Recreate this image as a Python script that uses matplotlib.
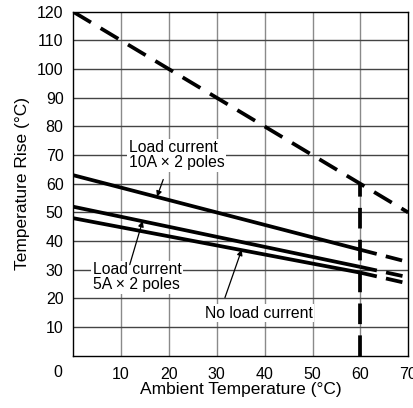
import matplotlib
matplotlib.use("Agg")
import matplotlib.pyplot as plt

plt.rcParams['font.family'] = ['Liberation Sans', 'DejaVu Sans']

# Data
x_limit_line = [0, 70]
max_rise = [120, 50]
x_solid = [0, 60]
x_ext = [60, 70]
load10 = [63, 37, 32.7]
load5 = [52, 31, 27.4]
noload = [48, 29, 25.2]
limit_x = [60, 60]
limit_y = [0, 60]
xticks = [10, 20, 30, 40, 50, 60, 70]
yticks = [10, 20, 30, 40, 50, 60, 70, 80, 90, 100, 110, 120]

fig = plt.figure(figsize=(4.14, 4.08), dpi=100)
ax = fig.add_axes([0.177, 0.128, 0.809, 0.843])
ax.set_xlim(0, 70)
ax.set_ylim(0, 120)

for v in xticks[:-1]:
    ax.axvline(v, color='#8a8a8a', lw=1.0, zorder=1)
for v in yticks[:-1]:
    ax.axhline(v, color='#444444', lw=1.0, zorder=1)

lw = 2.7
dash = (5.5, 3)
ax.plot(x_limit_line, max_rise, color='black', lw=lw, dashes=dash, zorder=3)
ax.plot(limit_x, limit_y, color='black', lw=lw, dashes=dash, zorder=3)
for s in (load10, load5, noload):
    ax.plot(x_solid, s[:2], color='black', lw=lw, solid_capstyle='butt', zorder=3)
    ax.plot(x_ext, s[1:], color='black', lw=lw, dashes=(4.5, 2.5), zorder=3)

bbox = dict(facecolor='white', edgecolor='none', pad=1.0)
fs = 11.3
ax.text(11.6, 70, "Load current\n10A \u00d7 2 poles", fontsize=fs, ha='left', va='center',
        bbox=bbox, zorder=4, linespacing=1.0)
ax.annotate("", xy=(17.5, 55.5), xytext=(18.8, 61.5),
            arrowprops=dict(arrowstyle='-|>', lw=0.9, color='black', mutation_scale=8,
                            shrinkA=0, shrinkB=0), zorder=4)
ax.text(4.1, 27.4, "Load current\n5A \u00d7 2 poles", fontsize=fs, ha='left', va='center',
        bbox=bbox, zorder=4, linespacing=1.0)
ax.annotate("", xy=(14.5, 47), xytext=(11.8, 31.8),
            arrowprops=dict(arrowstyle='-|>', lw=0.9, color='black', mutation_scale=8,
                            shrinkA=0, shrinkB=0), zorder=4)
ax.text(27.5, 14.9, "No load current", fontsize=fs, ha='left', va='center',
        bbox=bbox, zorder=4)
ax.annotate("", xy=(35.2, 37), xytext=(31.7, 20.3),
            arrowprops=dict(arrowstyle='-|>', lw=0.9, color='black', mutation_scale=8,
                            shrinkA=0, shrinkB=0), zorder=4)

ax.set_xticks(xticks)
ax.set_yticks(yticks)
ax.tick_params(length=0, labelsize=11.5, pad=8)
ax.tick_params(axis='y', pad=7)
ax.text(-3.2, -6.0, "0", fontsize=11.5, ha='center', va='center', clip_on=False)
for sp in ax.spines.values():
    sp.set_color('black')
    sp.set_linewidth(1.0)
    sp.set_zorder(5)
ax.set_xlabel("Ambient Temperature (\u00b0C)", fontsize=12.5, labelpad=0)
ax.set_ylabel("Temperature Rise (\u00b0C)", fontsize=12.5, labelpad=5)

fig.savefig("out.png", dpi=100)
